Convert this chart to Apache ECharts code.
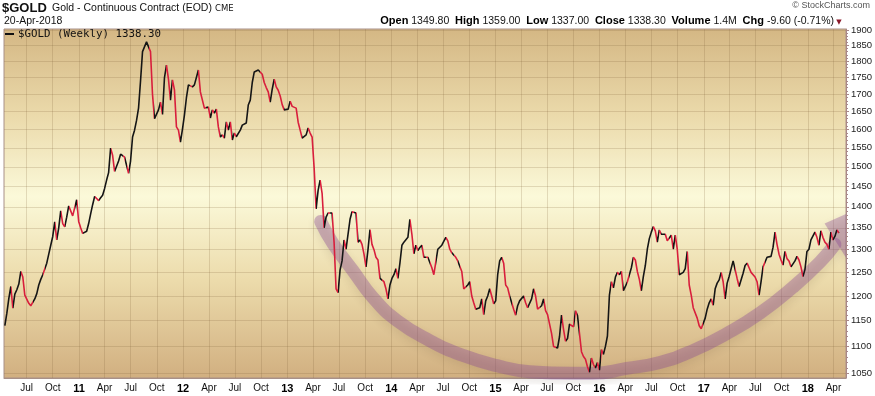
<!DOCTYPE html>
<html><head><meta charset="utf-8">
<script src="https://cdn.jsdelivr.net/npm/echarts@6/dist/echarts.min.js"></script>
<style>html,body{margin:0;padding:0;background:#fff;}#c{width:875px;height:396px;}</style>
</head><body><div id="c"></div>
<script>
// ---- data ----
const startDate = '2010-04-16'; // first weekly close, then every 7 days
const closes = [
1140,1165,1195,1220,1175,1204,1213,1225,1252,1240,
1202,1198,1185,1180,1177,1194,1205,1223,1235,1245,
1243,1270,1290,1310,1330,1364,1322,1350,1390,1360,
1352,1375,1402,1390,1378,1376,1417,1365,1350,1337,
1338,1342,1360,1383,1405,1425,1420,1415,1422,1428,
1445,1466,1485,1549,1530,1488,1491,1515,1533,1535,
1525,1530,1483,1515,1579,1598,1625,1660,1740,1830,
1835,1861,1862,1830,1700,1630,1635,1655,1677,1642,
1750,1788,1745,1683,1743,1713,1607,1598,1565,1600,
1640,1690,1728,1728,1722,1728,1733,1773,1707,1704,
1660,1655,1663,1632,1655,1646,1657,1607,1579,1585,
1576,1621,1598,1621,1571,1590,1580,1582,1598,1612,
1612,1618,1669,1683,1735,1767,1770,1773,1779,1760,
1735,1720,1707,1677,1715,1745,1722,1712,1695,1670,
1655,1655,1657,1680,1665,1663,1660,1620,1598,1576,
1576,1585,1604,1590,1579,1498,1395,1440,1466,1433,
1350,1375,1385,1383,1385,1317,1215,1207,1255,1275,
1322,1301,1305,1370,1388,1385,1385,1317,1322,1312,
1290,1262,1300,1346,1312,1300,1283,1277,1237,1241,
1230,1215,1194,1223,1237,1245,1258,1237,1270,1310,
1317,1320,1328,1370,1335,1291,1310,1298,1305,1310,
1283,1287,1283,1283,1260,1245,1243,1301,1305,1310,
1312,1328,1320,1301,1293,1296,1283,1275,1277,1252,
1215,1211,1223,1230,1200,1186,1173,1175,1176,1194,
1162,1190,1200,1215,1200,1184,1190,1245,1275,1283,
1270,1223,1217,1200,1202,1173,1161,1180,1190,1194,
1200,1186,1176,1176,1194,1215,1200,1173,1170,1180,
1194,1170,1162,1161,1125,1100,1097,1097,1119,1161,
1133,1110,1115,1143,1140,1138,1170,1160,1160,1090,
1081,1076,1062,1052,1078,1066,1060,1070,1056,1094,
1085,1100,1120,1202,1230,1217,1240,1250,1245,1252,
1211,1220,1230,1227,1260,1283,1277,1252,1235,1211,
1241,1265,1301,1325,1340,1353,1343,1317,1345,1335,
1335,1335,1320,1317,1333,1301,1333,1301,1245,1245,
1250,1258,1296,1223,1202,1176,1173,1155,1140,1134,
1133,1155,1173,1186,1194,1181,1215,1227,1234,1250,
1230,1194,1227,1241,1245,1275,1275,1237,1220,1223,
1248,1265,1270,1260,1250,1248,1240,1230,1202,1230,
1262,1258,1283,1284,1285,1305,1340,1312,1290,1277,
1266,1296,1280,1275,1262,1262,1275,1285,1277,1262,
1241,1256,1296,1301,1322,1325,1340,1328,1310,1343,
1328,1317,1312,1301,1340,1322,1330,1345,1338
];
const yTickLabels = [1050,1100,1150,1200,1250,1300,1350,1400,1450,1500,1550,1600,1650,1700,1750,1800,1850,1900];
const yMinorTicks = [1050,1060,1070,1080,1090,1100,1110,1120,1130,1140,1150,1160,1170,1180,1190,1200,1210,1220,1230,1240,1250,1260,1270,1280,1290,1300,1310,1320,1330,1340,1350,1360,1370,1380,1390,1400,1410,1420,1430,1440,1450,1460,1470,1480,1490,1500,1510,1520,1530,1540,1550,1560,1570,1580,1590,1600,1610,1620,1630,1640,1650,1660,1670,1680,1690,1700,1710,1720,1730,1740,1750,1760,1770,1780,1790,1800,1810,1820,1830,1840,1850,1860,1870,1880,1890,1900];
const xTickDates = ['2010-07-01','2010-10-01','2011-01-01','2011-04-01','2011-07-01','2011-10-01','2012-01-01','2012-04-01','2012-07-01','2012-10-01','2013-01-01','2013-04-01','2013-07-01','2013-10-01','2014-01-01','2014-04-01','2014-07-01','2014-10-01','2015-01-01','2015-04-01','2015-07-01','2015-10-01','2016-01-01','2016-04-01','2016-07-01','2016-10-01','2017-01-01','2017-04-01','2017-07-01','2017-10-01','2018-01-01','2018-04-01'];
const xTickLabels = ['Jul','Oct','11','Apr','Jul','Oct','12','Apr','Jul','Oct','13','Apr','Jul','Oct','14','Apr','Jul','Oct','15','Apr','Jul','Oct','16','Apr','Jul','Oct','17','Apr','Jul','Oct','18','Apr'];
// hand-drawn "rounding bottom" annotation
const arcDates = ['2013-04-28','2013-06-10','2013-08-19','2013-10-28','2014-01-21','2014-05-16','2014-09-09','2015-01-06','2015-05-01','2015-09-29','2015-12-08','2016-04-06','2016-07-31','2016-11-24','2017-03-24','2017-07-17','2017-11-09','2018-02-12','2018-04-06'];
const arcValues = [1365,1314,1254,1197,1150,1111,1083,1064,1053,1050,1050,1059,1070,1092,1125,1165,1218,1272,1312];
const arrowDates = ['2018-03-01','2018-05-29','2018-07-24'];
const arrowValues = [1360,1268,1404];

// ---- build ----
const ts = s => { const p = s.split('-').map(Number); return Date.UTC(p[0], p[1]-1, p[2]); };
const DAY = 86400000;
const t0 = ts(startDate);
const weekTimes = closes.map((_, i) => t0 + i * 7 * DAY);
const lg = v => Math.log10(v);
const priceData = closes.map((v, i) => [weekTimes[i], lg(v)]);
const xTickTimes = xTickDates.map(ts);

const UP = '#151515', DOWN = '#d81e3c';
const n = closes.length;
const segColor = k => closes[k+1] >= closes[k] ? UP : DOWN;
const pieces = [];
let s = 0;
for (let k = 1; k <= n - 1; k++) {
  if (k === n - 1) {
    pieces.push({gte: weekTimes[s], lte: weekTimes[n-1], color: segColor(s)});
  } else if (segColor(k) !== segColor(s)) {
    pieces.push({gte: weekTimes[s], lt: weekTimes[k], color: segColor(s)});
    s = k;
  }
}

const yMin = lg(1041.6), yMax = lg(1903);
const GRIDC = 'rgba(125,95,55,0.2)';
const AXC = '#a98888';
const FONT = "'Liberation Sans', Arial, sans-serif";
const ARC = 'rgba(135,70,150,0.36)';

const chart = echarts.init(document.getElementById('c'), null, {renderer: 'canvas'});
chart.setOption({
  animation: false,
  backgroundColor: '#ffffff',
  grid: {
    left: 4, right: 29, top: 29, bottom: 18,
    outerBoundsMode: 'none',
    show: true,
    borderColor: '#a89088', borderWidth: 1,
    backgroundColor: new echarts.graphic.LinearGradient(0, 0, 0, 1, [
      {offset: 0, color: '#d4b784'},
      {offset: 0.25, color: '#ebdaab'},
      {offset: 0.48, color: '#fbf9d9'},
      {offset: 0.72, color: '#ecdbab'},
      {offset: 1, color: '#d1af80'}
    ])
  },
  xAxis: {
    type: 'value',
    min: ts('2010-04-13'), max: ts('2018-05-15'),
    axisLine: {show: true, lineStyle: {color: '#a89088'}},
    axisTick: {show: false, customValues: xTickTimes},
    splitLine: {show: true, lineStyle: {color: GRIDC, width: 1}},
    axisLabel: {
      customValues: xTickTimes,
      margin: 5,
      fontFamily: FONT, fontSize: 10, color: '#111',
      formatter: function (v) {
        let best = 0;
        for (let i = 0; i < xTickTimes.length; i++) if (Math.abs(xTickTimes[i] - v) < Math.abs(xTickTimes[best] - v)) best = i;
        const lab = xTickLabels[best];
        return /^\d+$/.test(lab) ? '{y|' + lab + '}' : lab;
      },
      rich: {y: {fontWeight: 'bold', fontSize: 11, fontFamily: FONT, color: '#000'}}
    }
  },
  yAxis: [{
    type: 'value', position: 'right', min: yMin, max: yMax,
    axisLine: {show: true, lineStyle: {color: AXC}},
    axisTick: {show: true, length: 3, lineStyle: {color: AXC}, customValues: yTickLabels.map(lg)},
    axisLabel: {
      customValues: yTickLabels.map(lg), margin: 5,
      fontFamily: FONT, fontSize: 9.5, color: '#222',
      formatter: v => String(Math.round(Math.pow(10, v)))
    },
    splitLine: {show: true, lineStyle: {color: GRIDC, width: 1}}
  }, {
    type: 'value', position: 'right', offset: 0, min: yMin, max: yMax,
    axisLine: {show: false},
    axisTick: {show: true, length: 2, lineStyle: {color: AXC}, customValues: yMinorTicks.map(lg)},
    axisLabel: {show: false},
    splitLine: {show: false}
  }],
  visualMap: {
    show: false, type: 'piecewise', dimension: 0, seriesIndex: 2,
    pieces: pieces, outOfRange: {color: UP}
  },
  series: [{
    type: 'line', name: 'arc', silent: true, z: 1,
    data: arcDates.map((d, i) => [ts(d), lg(arcValues[i])]),
    smooth: 0.5, showSymbol: false, symbol: 'none',
    lineStyle: {width: 13, color: ARC, cap: 'round',
      shadowBlur: 8, shadowColor: 'rgba(70,45,30,0.3)', shadowOffsetY: 4}
  }, {
    type: 'custom', name: 'arrow', silent: true, z: 1, clip: true,
    data: [[ts(arrowDates[0]), lg(arrowValues[0])]],
    renderItem: function (params, api) {
      return {
        type: 'polygon',
        shape: {points: arrowDates.map((d, i) => api.coord([ts(d), lg(arrowValues[i])]))},
        style: {fill: ARC, shadowBlur: 8, shadowColor: 'rgba(70,45,30,0.3)', shadowOffsetY: 4}
      };
    }
  }, {
    type: 'line', name: '$GOLD', z: 3,
    data: priceData, showSymbol: false, symbol: 'none',
    lineStyle: {width: 1.6}
  }],
  graphic: [
    {type: 'text', x: 2, y: 8, style: {text: '$GOLD', fontFamily: FONT, fontSize: 13, fontWeight: 'bold', fill: '#111', textVerticalAlign: 'middle'}},
    {type: 'text', x: 52, y: 8, style: {text: 'Gold - Continuous Contract (EOD)', fontFamily: FONT, fontSize: 10.5, fill: '#111', textVerticalAlign: 'middle'}},
    {type: 'text', x: 215, y: 8.5, style: {text: 'CME', fontFamily: "'DejaVu Sans', sans-serif", fontSize: 8.5, fill: '#111', textVerticalAlign: 'middle'}},
    {type: 'text', x: 4, y: 21, style: {text: '20-Apr-2018', fontFamily: FONT, fontSize: 10.5, fill: '#111', textVerticalAlign: 'middle'}},
    {type: 'text', x: 870, y: 6, style: {text: '\u00A9 StockCharts.com', fontFamily: FONT, fontSize: 9, fill: '#555', textAlign: 'right', textVerticalAlign: 'middle'}},
    {type: 'text', x: 834, y: 21, style: {
      text: '{b|Open} 1349.80  {b|High} 1359.00  {b|Low} 1337.00  {b|Close} 1338.30  {b|Volume} 1.4M  {b|Chg} -9.60 (-0.71%)',
      fontFamily: FONT, fontSize: 10.5, fill: '#111', textAlign: 'right', textVerticalAlign: 'middle',
      rich: {b: {fontWeight: 'bold', fontFamily: FONT, fontSize: 11, fill: '#000'}}
    }},
    {type: 'text', x: 839, y: 22, style: {text: '\u25BC', fontFamily: "'DejaVu Sans', sans-serif", fontSize: 7, fill: '#8b1a2b', textAlign: 'center', textVerticalAlign: 'middle'}},
    {type: 'line', shape: {x1: 5, y1: 34, x2: 14, y2: 34}, style: {stroke: '#111', lineWidth: 2}, z: 10},
    {type: 'text', x: 18, y: 34, z: 10, style: {text: '$GOLD (Weekly) 1338.30', fontFamily: "'DejaVu Sans Mono', monospace", fontSize: 10.8, fill: '#111', textVerticalAlign: 'middle'}}
  ]
});
</script></body></html>
